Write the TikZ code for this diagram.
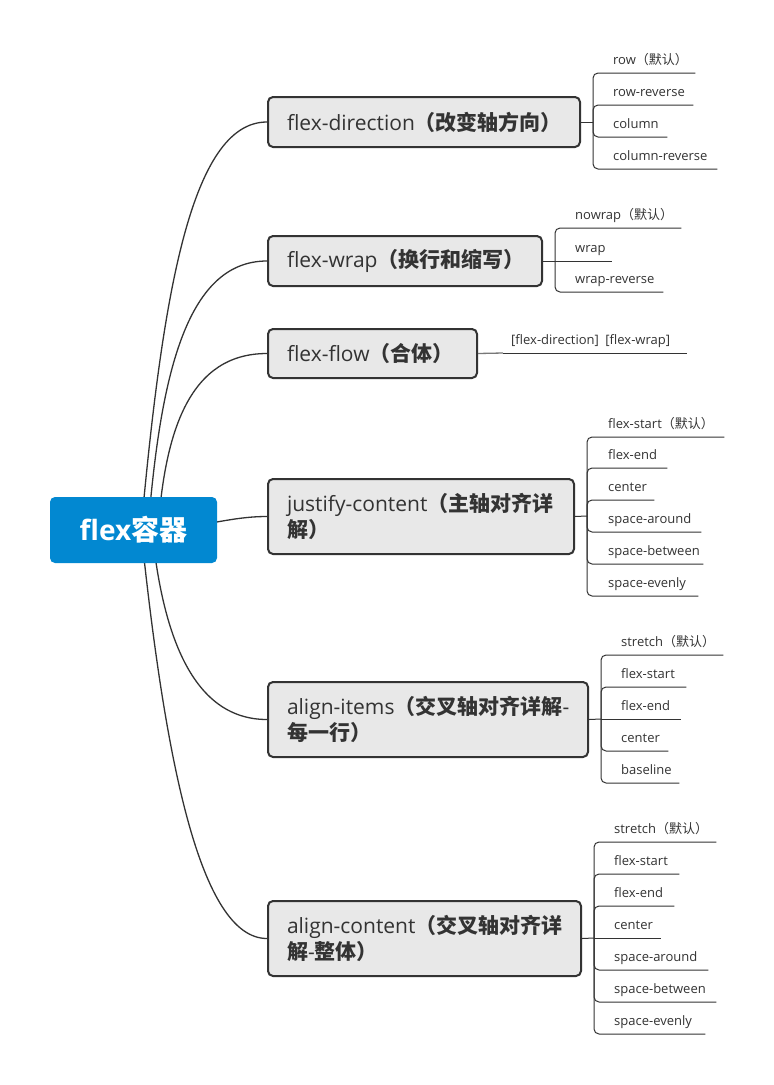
\documentclass[tikz,border=0pt]{standalone}
\usepackage{fontspec}
\setmainfont{Open Sans}
\newfontfamily\cjk{Noto Sans CJK SC}
\usetikzlibrary{calc,backgrounds}
\definecolor{rootblue}{RGB}{2,136,209}
\definecolor{boxfill}{RGB}{232,232,232}
\definecolor{ink}{RGB}{51,51,51}
\definecolor{stem}{RGB}{120,120,120}
\newcommand{\zh}[1]{{\cjk #1}}
\newcommand{\zhb}[1]{{\cjk\bfseries #1}}
\exhyphenpenalty=10000
\hyphenpenalty=10000
\begin{document}
\begin{tikzpicture}[x=1pt,y=-1pt,
  topic/.style={draw=ink, line width=2pt, fill=boxfill, rounded corners=5pt,
    inner xsep=19pt, inner ysep=0pt, align=left, text=ink,
    font=\fontsize{21}{26}\selectfont},
  rootnode/.style={fill=rootblue, rounded corners=5pt, text=white, inner sep=0pt,
    minimum width=167pt, minimum height=66pt,
    font=\fontsize{28}{32}\selectfont\bfseries},
  leaf/.style={anchor=south west, inner xsep=0pt, inner ysep=8.5pt, text depth=0pt,
    align=left, text=ink, font=\fontsize{13}{15}\selectfont},
  link/.style={draw=ink, line width=1.3pt},
  branch/.style={draw=ink, line width=1pt, rounded corners=5pt},
  softlink/.style={draw=stem, line width=1.3pt}
]
\useasboundingbox (0,0) rectangle (774,1085);

% root
\node[rootnode] (root) at (133.5,530) {flex\zhb{容器}};

% main topics
\node[topic, minimum width=312pt, minimum height=50pt, text width=274pt] (n1) at (424,122)
  {flex-direction\zhb{（改变轴方向）}};
\node[topic, minimum width=274pt, minimum height=50pt, text width=236pt] (n2) at (405,261)
  {flex-wrap\zhb{（换行和缩写）}};
\node[topic, minimum width=209pt, minimum height=49pt, text width=171pt] (n3) at (372.5,353.5)
  {flex-flow\zhb{（合体）}};
\node[topic, minimum width=306pt, minimum height=75pt, text width=268pt] (n4) at (421,516.5)
  {justify-content\zhb{（主轴对齐详}\\\zhb{解）}};
\node[topic, minimum width=320pt, minimum height=75pt, text width=282pt] (n5) at (428,719.5)
  {align-items\zhb{（交叉轴对齐详解}-\\\zhb{每一行）}};
\node[topic, minimum width=313pt, minimum height=75pt, text width=275pt] (n6) at (424.5,938.5)
  {align-content\zhb{（交叉轴对齐详}\\\zhb{解}-\zhb{整体）}};

% junctions
\coordinate (j1) at (593,122);
\coordinate (j2) at (555,261);
\coordinate (j3) at (503,353);
\coordinate (j4) at (587,516);
\coordinate (j5) at (601,719);
\coordinate (j6) at (594,938);

% leaves of flex-direction
\node[leaf, text width=82pt] (a1) at (613,73) {row\zh{（默认）}};
\node[leaf, text width=80pt] (a2) at (613,105) {row-reverse};
\node[leaf, text width=54pt] (a3) at (613,137) {column};
\node[leaf, text width=104pt] (a4) at (613,169) {column-reverse};
% leaves of flex-wrap
\node[leaf, text width=106pt] (b1) at (575,228) {nowrap\zh{（默认）}};
\node[leaf, text width=37pt] (b2) at (575,261) {wrap};
\node[leaf, text width=88pt] (b3) at (575,292) {wrap-reverse};
% leaf of flex-flow
\node[leaf, text width=176pt] (c1) at (511,353) {[flex-direction]\hspace{0.5em}[flex-wrap]};
% leaves of justify-content
\node[leaf, text width=116pt] (d1) at (608,437) {flex-start\zh{（默认）}};
\node[leaf, text width=59pt] (d2) at (608,468) {flex-end};
\node[leaf, text width=46pt] (d3) at (608,500) {center};
\node[leaf, text width=93pt] (d4) at (608,532) {space-around};
\node[leaf, text width=95pt] (d5) at (608,564) {space-between};
\node[leaf, text width=90pt] (d6) at (608,596) {space-evenly};
% leaves of align-items
\node[leaf, text width=102pt] (e1) at (621,655) {stretch\zh{（默认）}};
\node[leaf, text width=65pt] (e2) at (621,687) {flex-start};
\node[leaf, text width=60pt] (e3) at (621,719) {flex-end};
\node[leaf, text width=47pt] (e4) at (621,751) {center};
\node[leaf, text width=58pt] (e5) at (621,783) {baseline};
% leaves of align-content
\node[leaf, text width=102pt] (f1) at (614,842) {stretch\zh{（默认）}};
\node[leaf, text width=65pt] (f2) at (614,874) {flex-start};
\node[leaf, text width=60pt] (f3) at (614,906) {flex-end};
\node[leaf, text width=47pt] (f4) at (614,938) {center};
\node[leaf, text width=94pt] (f5) at (614,970) {space-around};
\node[leaf, text width=102pt] (f6) at (614,1002) {space-between};
\node[leaf, text width=91pt] (f7) at (614,1034) {space-evenly};

% topic to junction
\draw[branch] (n1.east) -- (j1);
\draw[branch] (n2.east) -- (j2);
\draw[softlink] (n3.east) -- (j3);
\draw[branch] (n4.east) -- (j4);
\draw[branch] (n5.east) -- (j5);
\draw[branch] (n6.east) -- (j6);

% junction to leaves
\foreach \l in {a1,a2,a3,a4} \draw[branch] (j1) |- (\l.south east);
\foreach \l in {b1,b3} \draw[branch] (j2) |- (\l.south east);
\draw[branch] (j2) -- (b2.south east);
\draw[branch] (j3) -- (c1.south east);
\foreach \l in {d1,d2,d3,d4,d5,d6} \draw[branch] (j4) |- (\l.south east);
\foreach \l in {e1,e2,e4,e5} \draw[branch] (j5) |- (\l.south east);
\draw[branch] (j5) -- (e3.south east);
\foreach \l in {f1,f2,f3,f5,f6,f7} \draw[branch] (j6) |- (\l.south east);
\draw[branch] (j6) -- (f4.south east);

% root links (behind)
\begin{pgfonlayer}{background}
\fill[white] (0,0) rectangle (774,1085);
\draw[link] ($(root.center)+(7.5,0)$) .. controls (162,300) and (190,122) .. (n1.west);
\draw[link] ($(root.center)+(14.5,0)$) .. controls (160,380) and (185,261) .. (n2.west);
\draw[link] ($(root.center)+(24.5,0)$) .. controls (165,430) and (190,353.5) .. (n3.west);
\draw[link] (root.center) .. controls (200,530) and (225,516.5) .. (n4.west);
\draw[link] ($(root.center)+(18.5,0)$) .. controls (163,640) and (195,719.5) .. (n5.west);
\draw[link] ($(root.center)+(7.5,0)$) .. controls (165,760) and (200,938.5) .. (n6.west);
\end{pgfonlayer}
\end{tikzpicture}
\end{document}
